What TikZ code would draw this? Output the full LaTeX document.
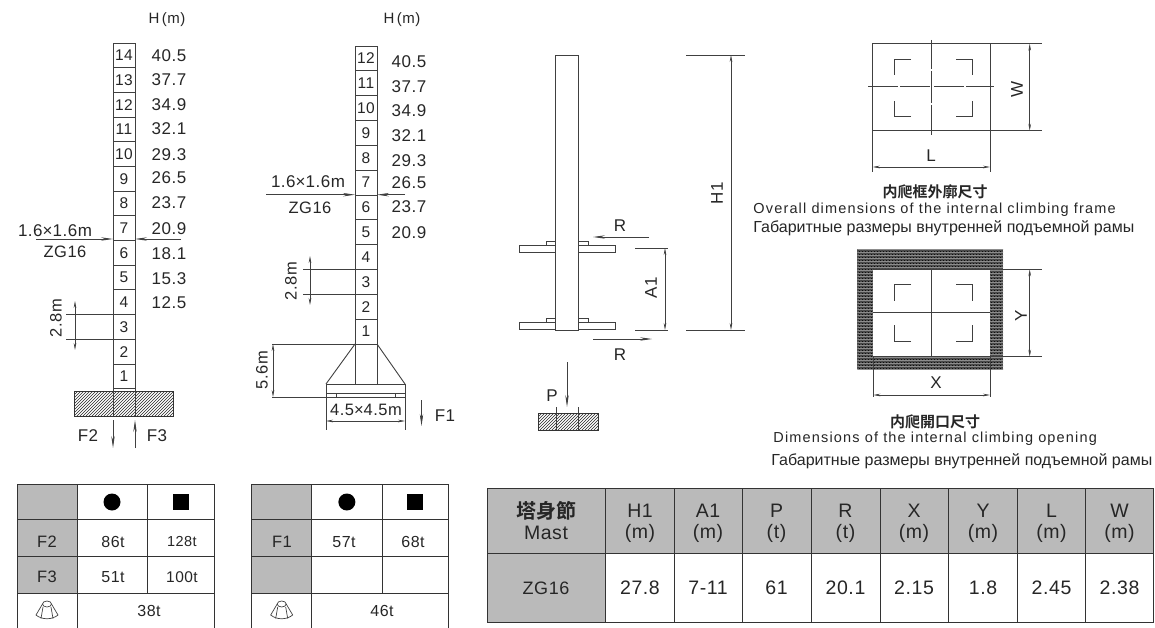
\documentclass[tikz,border=0pt]{standalone}
\usepackage{fontspec}
\setmainfont[LetterSpace=3]{Liberation Sans}
\newfontfamily\plainfont{Liberation Sans}
\newfontfamily\widefont[LetterSpace=8]{Liberation Sans}
\newfontfamily\cjk{Noto Sans CJK TC Bold}
\usetikzlibrary{arrows.meta,patterns}
\tikzset{
  baseline = (current bounding box.center),
}
\begin{document}
\begin{tikzpicture}[
    x=1pt,y=-1pt,
    line width=0.9pt,
    color=black!75,
    every node/.style={inner sep=0pt,text=black!85,font=\fontsize{17}{19}\selectfont},
    dim/.style={line width=0.6pt,<->,>={Stealth[length=7pt,width=2.6pt]}},
    load/.style={line width=0.7pt,->,>={Stealth[length=12pt,width=3.4pt]}},
    hatched/.style={draw=black!80,line width=1pt,pattern=north east lines,pattern color=black!85},
    sec/.style={font=\fontsize{15.5}{18}\selectfont},
    cell/.style={font=\fontsize{16}{18}\selectfont},
    lab/.style={font=\fontsize{16.5}{19}\selectfont},
    big/.style={font=\fontsize{19.5}{22}\selectfont},
    title/.style={font=\fontsize{15}{17}\selectfont},
    english/.style={font=\fontsize{14.5}{17}\selectfont,anchor=west},
    russian/.style={font=\fontsize{16}{18}\selectfont,anchor=west},
    tabgrid/.style={line width=1pt,draw=black!80},
    head/.style={fill=black!27,draw=none},
    brick/.style={preaction={fill=black!68},pattern=crosshatch dots,pattern color=black,
      postaction={pattern=horizontal lines,pattern color=black!45}},
    skip/.pic={
      \draw[line width=0.7pt] (0,-6) ellipse (4.5 and 3);
      \draw[line width=0.7pt] (-4.5,-6) -- (-11,5) .. controls (-5,10) and (5,10) .. (11,5) -- (4.5,-6);
      \draw[line width=0.7pt] (-4,-3) -- (-6,8.5) (4,-3) -- (6,8.5);
    }
    ]
    \useasboundingbox (0,0) rectangle (1155,628);
    % left tower
    \node[font=\fontsize{15}{17}\selectfont] at (167,20) (leftH) {H\,(m)};
    \draw (113,43) rectangle (135,388.7);
    \foreach \n/\h/\yh in {14/40.5/56,13/37.7/80,12/34.9/105,11/32.1/129,10/29.3/155,9/26.5/178,8/23.7/203,7/20.9/229,6/18.1/254,5/15.3/279,4/12.5/303,3//0,2//0,1//0}{
      \pgfmathsetmacro{\ybot}{388.7-(\n-1)*24.7}
      \pgfmathsetmacro{\ymid}{\ybot-12.3}
      \draw (113,\ybot) -- (135,\ybot);
      \node[sec] (leftS\n) at (124,\ymid) {\n};
      \ifx\h\empty\else\node (leftH\n) at (169,\yh) {\h};\fi
    }
    \node (leftSize) at (55,231) {1.6{\plainfont×}1.6m};
    \node[lab] (leftMast) at (65,252) {ZG16};
    \draw[load] (36,239) -- (113,239);
    \draw[load] (181,239) -- (135,239);
    \draw (66,314) -- (113,314);
    \draw (66,339) -- (113,339);
    \draw[dim] (75,301) -- (75,350);
    \node[rotate=90,lab] (leftStep) at (56,318) {2.8m};
    \draw[hatched] (74,391) rectangle (173.7,416);
    \draw[line width=1pt] (113,416) -- (113,388) -- (135,388) -- (135,416);
    \draw[load] (113,420) -- (113,448);
    \draw[load] (135,448) -- (135,420);
    \node (leftF2) at (88,436) {F2};
    \node (leftF3) at (157,436) {F3};

    % middle tower
    \node[font=\fontsize{15}{17}\selectfont] (midH) at (402,20) {H\,(m)};
    \draw (355,46) rectangle (377,344);
    \foreach \n/\h/\yh in {12/40.5/62,11/37.7/87,10/34.9/111,9/32.1/136,8/29.3/161,7/26.5/183,6/23.7/207,5/20.9/233,4//0,3//0,2//0,1//0}{
      \pgfmathsetmacro{\ybot}{344-(\n-1)*24.83}
      \pgfmathsetmacro{\ymid}{\ybot-12.4}
      \draw (355,\ybot) -- (377,\ybot);
      \node[sec] (midS\n) at (366,\ymid) {\n};
      \ifx\h\empty\else\node (midH\n) at (409,\yh) {\h};\fi
    }
    \node (midSize) at (308,182) {1.6{\plainfont×}1.6m};
    \node[lab] (midMast) at (310,208) {ZG16};
    \draw[load] (266,194.7) -- (355,194.7);
    \draw[load] (405,194.7) -- (377,194.7);
    \draw (303,269.3) -- (355,269.3);
    \draw (303,294) -- (355,294);
    \draw[dim] (310,256) -- (310,305);
    \node[rotate=90,lab] (midStep) at (291,281) {2.8m};
    \draw (355,344) -- (326,384) (377,344) -- (405,384);
    \draw (355,344) -- (355,384) (377,344) -- (377,384);
    \draw (272,344) -- (355,344);
    \draw (326,384) rectangle (405,393);
    \draw (326,393) -- (326,430) (405,393) -- (405,430);
    \draw (272,397) -- (405,397);
    \draw (336,393) -- (336,397) (395,393) -- (395,397);
    \draw[dim] (273,344) -- (273,397);
    \node[rotate=90,lab] (midRise) at (262,370) {5.6m};
    \node[lab] (midBase) at (366,410) {4.5{\plainfont×}4.5m};
    \draw[dim] (326,421) -- (405,421);
    \draw[load] (421.5,400) -- (421.5,426);
    \node (midF1) at (445,416) {F1};

    % mast with frames
    \draw (555.7,55) rectangle (578,330);
    \foreach \y in {245.7,322.7}{
      \draw (519,\y) rectangle (555.7,\y+6.6);
      \draw (578,\y) rectangle (615,\y+6.6);
      \draw (546,\y-4.2) rectangle (555.7,\y);
      \draw (578,\y-4.2) rectangle (588,\y);
    }
    \draw (686,55) -- (745,55);
    \draw (686,330) -- (745,330);
    \draw[dim] (731,55) -- (731,330);
    \node[rotate=90] (mastH) at (717,193) {H1};
    \draw (635,248) -- (668,248);
    \draw (635,330) -- (668,330);
    \draw[dim] (665,248) -- (665,330);
    \node[rotate=90] (mastA) at (651,288) {A1};
    \draw[load] (649,237) -- (593,237);
    \draw[load] (593,339) -- (652,339);
    \node (mastRt) at (620,226) {R};
    \node (mastRb) at (620,355) {R};
    \draw[load] (567,362) -- (567,407);
    \node (mastP) at (552,396) {P};
    \draw[hatched] (538,413) rectangle (598,430);
    \draw (556,407) -- (556,430) (578,407) -- (578,430);

    % frame outline
    \draw (872.7,43.7) rectangle (990,130.7);
    \draw (990,43.7) -- (1042,43.7) (990,130.7) -- (1042,130.7);
    \draw (931.7,40) -- (931.7,69) (931.7,71) -- (931.7,103) (931.7,105) -- (931.7,135);
    \draw (868,86.7) -- (898,86.7) (900,86.7) -- (929.5,86.7) (934,86.7) -- (964,86.7) (966,86.7) -- (994,86.7);
    \draw[dim] (1029.7,43.7) -- (1029.7,130.7);
    \node[rotate=90] (frameW) at (1017,89) {W};
    \draw (872.7,130.7) -- (872.7,172) (990,130.7) -- (990,172);
    \draw[dim] (872.7,167) -- (990,167);
    \node (frameL) at (931,156) {L};
    \draw (911,59.3) -- (894.7,59.3) -- (894.7,74.7);
    \draw (956,59.3) -- (972.7,59.3) -- (972.7,74.7);
    \draw (911,116) -- (894.7,116) -- (894.7,100.7);
    \draw (956,116) -- (972.7,116) -- (972.7,100.7);
    \node[title] (frameZh) at (935,192) {\cjk 内爬框外廓尺寸};
    \node[english] (frameEn) at (753,210) {\widefont Overall dimensions of the internal climbing frame};
    \node[russian] (frameRu) at (753,228) {\plainfont Габаритные размеры внутренней подъемной рамы};

    % opening
    \path[brick] (857.3,249.3) rectangle (1003,369);
    \path[fill=white] (873.3,269.3) rectangle (990,356.7);
    \draw (873.3,269.3) -- (1042,269.3);
    \draw[line width=1.4pt] (873.3,356.7) -- (990,356.7);
    \draw (990,356.7) -- (1042,356.7);
    \draw (931.7,269.3) -- (931.7,356.7);
    \draw (873.3,312.7) -- (990,312.7);
    \draw[dim] (1029.7,269.3) -- (1029.7,356.7);
    \node[rotate=90] (openY) at (1021,316) {Y};
    \draw (873.3,356.7) -- (873.3,397) (990,356.7) -- (990,397);
    \draw[dim] (873.3,395) -- (990,395);
    \node (openX) at (936,383) {X};
    \draw (911,284.3) -- (894,284.3) -- (894,300.7);
    \draw (956,284.3) -- (972.7,284.3) -- (972.7,300.7);
    \draw (911,341.3) -- (894,341.3) -- (894,325);
    \draw (956,341.3) -- (972.7,341.3) -- (972.7,325);
    \node[title] (openZh) at (935,422) {\cjk 内爬開口尺寸};
    \node[english] (openEn) at (773,439) {\widefont Dimensions of the internal climbing opening};
    \node[russian] (openRu) at (771,461) {\plainfont Габаритные размеры внутренней подъемной рамы};

    % load tables
    \foreach \tx/\xa/\xb/\xc/\xd in {tabA/17/77/147/214,tabB/251.7/311.7/382/448.7}{
      \path[head] (\xa,484.7) rectangle (\xb,593.7);
      \draw[tabgrid] (\xa,628) -- (\xa,484.7) -- (\xd,484.7) -- (\xd,628);
      \draw[tabgrid] (\xb,484.7) -- (\xb,628);
      \draw[tabgrid] (\xc,484.7) -- (\xc,593.7);
      \foreach \y in {519.3,556.3,593.7}{
        \draw[tabgrid] (\xa,\y) -- (\xd,\y);
      }
      \pgfmathsetmacro{\xm}{(\xa+\xb)/2}
      \pgfmathsetmacro{\xp}{(\xb+\xc)/2}
      \pgfmathsetmacro{\xq}{(\xc+\xd)/2}
      \node[circle,fill=black,minimum size=17pt] (\tx round) at (\xp,502) {};
      \node[rectangle,fill=black,minimum size=16pt] (\tx square) at (\xq,502) {};
      \pic at (\xm,610) {skip};
    }
    \node[lab] (tabAF2) at (47,542) {F2};
    \node[cell] (tabA86) at (113,542) {86t};
    \node[cell,font=\fontsize{14.5}{16}\selectfont] (tabA128) at (182,542) {128t};
    \node[lab] (tabAF3) at (47,577) {F3};
    \node[cell] (tabA51) at (113,577) {51t};
    \node[cell,font=\fontsize{15.5}{18}\selectfont] (tabA100) at (182,577) {100t};
    \node[cell] (tabA38) at (149,611) {38t};
    \node[lab] (tabBF1) at (282,542) {F1};
    \node[cell] (tabB57) at (344,542) {57t};
    \node[cell] (tabB68) at (413,542) {68t};
    \node[cell] (tabB46) at (382,611) {46t};

    % mast table
    \path[head] (487,488) rectangle (1153.5,553);
    \path[head] (487,553) rectangle (605.5,622);
    \draw[tabgrid] (487,488) rectangle (1153.5,622);
    \draw[tabgrid] (487,553) -- (1153.5,553);
    \foreach \x in {605.5,674.3,742.7,811.5,880,948.6,1017.4,1085.8}{
      \draw[tabgrid] (\x,488) -- (\x,622);
    }
    \node[font=\fontsize{20}{22}\selectfont] (mastZh) at (546,511) {\cjk 塔身節};
    \node[big] (mastEn) at (546,533) {Mast};
    \node[font=\fontsize{18}{20}\selectfont] (mastZG) at (546,588) {ZG16};
    \foreach \n/\x/\a/\b/\v in {H/640/H1/(m)/27.8,A/708/A1/(m)/7-11,P/776.5/P/(t)/61,R/845.5/R/(t)/20.1,X/914/X/(m)/2.15,Y/983/Y/(m)/1.8,L/1051.5/L/(m)/2.45,W/1119.5/W/(m)/2.38}{
      \node[big] (col\n a) at (\x,511) {\a};
      \node[big] (col\n b) at (\x,533) {\b};
      \node[big] (col\n v) at (\x,588) {\v};
    }
  \end{tikzpicture}
\end{document}
